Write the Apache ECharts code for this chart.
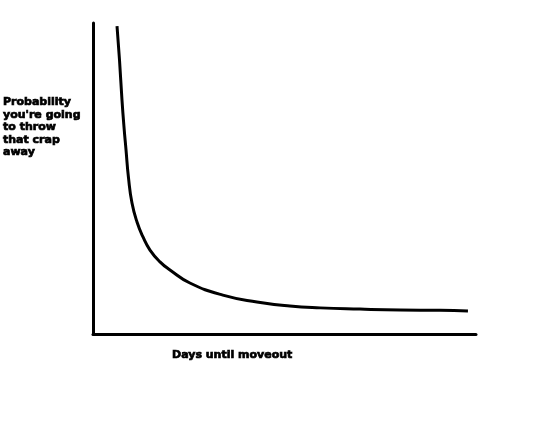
<!DOCTYPE html>
<html>
<head>
<meta charset="utf-8">
<script src="https://cdn.jsdelivr.net/npm/echarts@6/dist/echarts.min.js"></script>
<style>html,body{margin:0;padding:0;background:#fff}#c{width:538px;height:430px}</style>
</head>
<body>
<div id="c"></div>
<script>
var days = [6.27, 6.92, 7.57, 8.09, 8.62, 9.27, 10.18, 11.49, 13.05, 14.88, 17.49, 20.1, 25.3, 33.9, 42.8, 51.4, 59.3, 69.7, 80.2, 90.6, 97.9];
var probability = [99.0, 88.1, 75.2, 66.6, 59.2, 50.2, 42.1, 36.0, 31.2, 27.0, 23.2, 20.6, 16.4, 12.5, 10.3, 9.0, 8.4, 8.0, 7.7, 7.6, 7.4];
var yTitle = "Probability\nyou're going\nto throw\nthat crap\naway";
var xTitle = "Days until moveout";

var chart = echarts.init(document.getElementById('c'));
chart.setOption({
  backgroundColor: '#ffffff',
  animation: false,
  title: [
    {text: yTitle, left: -2, top: 91, textStyle: {fontFamily: 'DejaVu Sans', fontWeight: 'bold', fontSize: 11, lineHeight: 12.5, color: '#000', textBorderColor: '#000', textBorderWidth: 0.7}},
    {text: xTitle, left: 167, top: 345, textStyle: {fontFamily: 'DejaVu Sans', fontWeight: 'bold', fontSize: 11, color: '#000', textBorderColor: '#000', textBorderWidth: 0.7}}
  ],
  grid: {left: 93, right: 62, top: 23, bottom: 96},
  xAxis: {
    type: 'value', min: 0, max: 100,
    axisLine: {show: true, lineStyle: {color: '#000', width: 3}},
    axisTick: {show: false}, axisLabel: {show: false}, splitLine: {show: false}
  },
  yAxis: {
    type: 'value', min: 0, max: 100,
    axisLine: {show: true, lineStyle: {color: '#000', width: 3}},
    axisTick: {show: false}, axisLabel: {show: false}, splitLine: {show: false}
  },
  series: [{
    type: 'line',
    data: days.map(function (d, i) { return [d, probability[i]]; }),
    smooth: 0.5,
    showSymbol: false,
    lineStyle: {color: '#000', width: 3}
  }]
});
</script>
</body>
</html>
